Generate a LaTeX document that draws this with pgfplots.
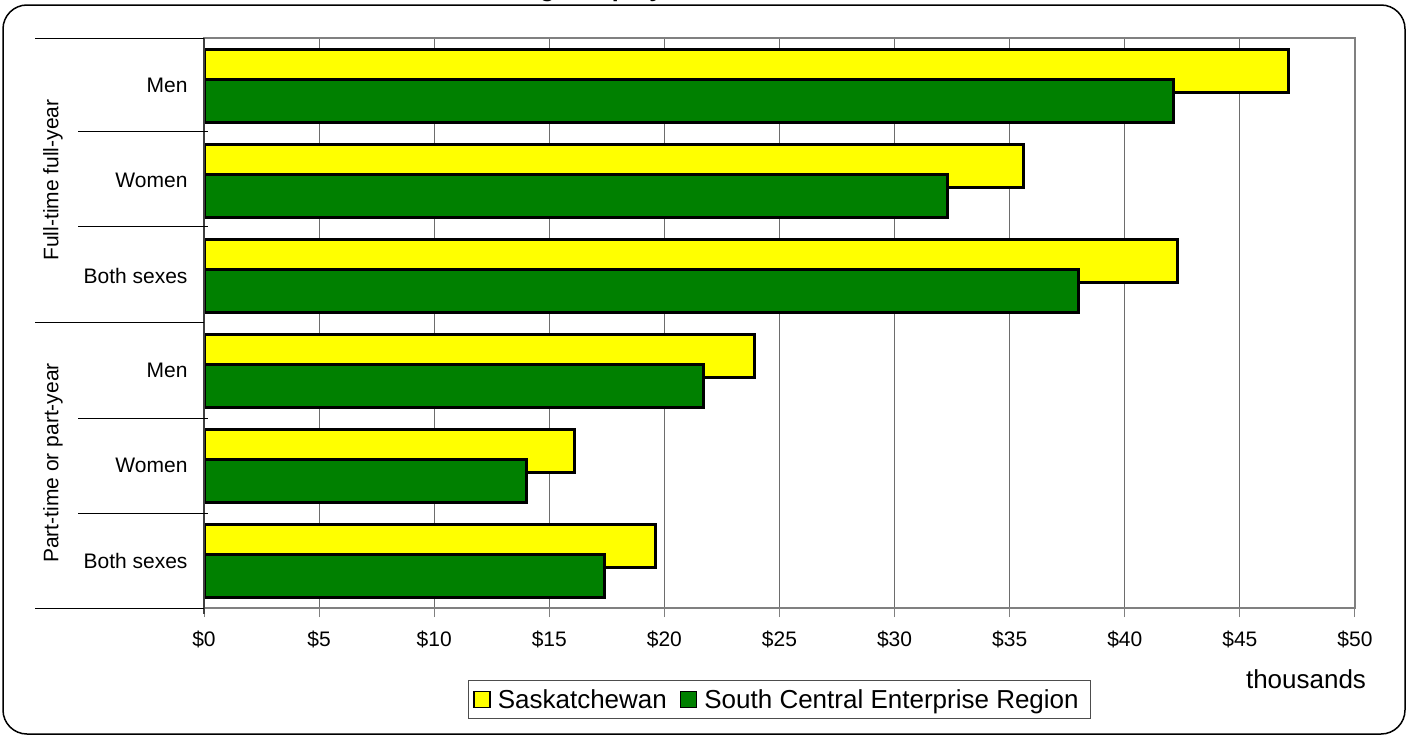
\documentclass[border=0pt]{standalone}
\usepackage{pgfplots}
\pgfplotsset{compat=1.18}
\usepackage{fontspec}
\setmainfont{Liberation Sans}
\definecolor{sask}{HTML}{FFFF00}
\definecolor{scer}{HTML}{008000}
\definecolor{gridgray}{HTML}{808080}

\pgfplotstableread{
pos sask scer
0 19.6 17.4
1 16.1 14.0
2 23.9 21.7
3 42.3 38.0
4 35.6 32.3
5 47.1 42.1
}\incometab

\begin{document}
\begin{tikzpicture}[x=1pt,y=1pt]
\useasboundingbox (0,0) rectangle (1411,-736);
% title, almost entirely above the top edge of the page
\node[anchor=base west, inner sep=0, font=\bfseries\fontsize{25}{30}\selectfont] at (471,3) {Average employment income};
\draw[line width=1.5pt, rounded corners=24pt] (3,-5) rectangle (1405,-734);
\begin{axis}[
  at={(204pt,-608pt)}, anchor=south west,
  scale only axis, width=1151pt, height=570pt,
  xmin=0, xmax=50, ymin=-0.5, ymax=5.5,
  xbar, bar width=43pt,
  xtick={0,5,...,50},
  xticklabel={\$\pgfmathprintnumber{\tick}},
  /pgf/number format/assume math mode=true,
  ytick={0,...,5},
  yticklabels={Both sexes,Women,Men,Both sexes,Women,Men},
  ytick style={draw=none},
  xtick style={draw=gridgray, line width=1pt},
  tick align=outside, tick pos=left, major tick length=9pt,
  xmajorgrids, grid style={gridgray!85!black, line width=1pt},
  axis line style={gridgray, line width=1.5pt},
  tick label style={font=\fontsize{21}{25}\selectfont},
  xticklabel style={yshift=-10pt},
  yticklabel style={xshift=-4pt},
  legend style={at={(0.5,-0.1263)}, anchor=north, legend columns=2,
    draw=gridgray!60!black, line width=1pt, font=\fontsize{26}{30}\selectfont,
    inner xsep=5pt, inner ysep=4pt, nodes={inner xsep=7pt, inner ysep=5pt},
    /tikz/every even column/.append style={column sep=6pt}},
  sq/.style={legend image code/.code={\draw[##1, bar shift=0pt, line width=1.5pt] (3pt,-8pt) rectangle (19pt,8pt);}},
]
\addplot[fill=sask, draw=black, line width=3pt, bar shift=15pt, sq] table[x=sask, y=pos] {\incometab};
\addlegendentry{Saskatchewan}
\addplot[fill=scer, draw=black, line width=3pt, bar shift=-15pt, sq] table[x=scer, y=pos] {\incometab};
\addlegendentry{South Central Enterprise Region}
\end{axis}
\draw[line width=1.5pt, black!75] (204,-38) -- (204,-614);
\foreach \y in {131,226,418,513} \draw[line width=1pt] (78,-\y) -- (208,-\y);
\foreach \y in {38,322,608} \draw[line width=1pt] (35,-\y) -- (204,-\y);
\node[rotate=90, font=\fontsize{21}{25}\selectfont] at (53,-180) {Full-time full-year};
\node[rotate=90, font=\fontsize{21}{25}\selectfont] at (53,-463) {Part-time or part-year};
\node[font=\fontsize{26}{30}\selectfont] at (1306,-679) {thousands};
\end{tikzpicture}
\end{document}
